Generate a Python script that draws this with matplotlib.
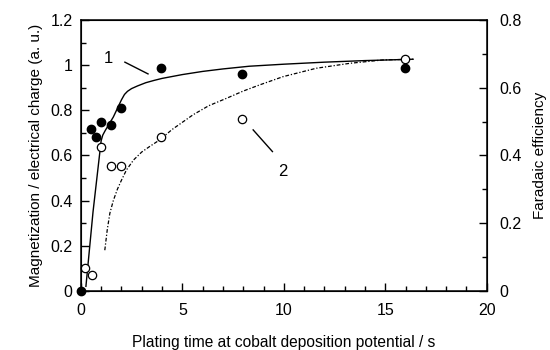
import numpy as np
import matplotlib.pyplot as plt
from matplotlib.ticker import MultipleLocator, FormatStrFormatter

plt.rcParams['font.family'] = ['Liberation Sans', 'DejaVu Sans']

# measured points
t_mag = [0, 0.49, 0.74, 0.99, 1.51, 1.99, 3.97, 7.96, 15.99]
mag = [0.0, 0.717, 0.683, 0.747, 0.735, 0.809, 0.988, 0.961, 0.989]

t_eff = [0.2, 0.53, 0.99, 1.51, 1.99, 3.97, 7.96, 15.96]
eff = [0.103, 0.069, 0.639, 0.555, 0.555, 0.683, 0.762, 1.026]  # on left scale

# fitted curves
fit1_t = [0.25, 0.6, 1.0, 1.08, 1.2, 1.6, 2.0, 2.15, 2.3, 2.5, 2.8, 3.2, 3.6, 4.0,
          5.0, 6.0, 7.0, 8.3, 10.0, 12.0, 14.0, 16.37]
fit1_y = [0.02, 0.35, 0.665, 0.69, 0.71, 0.77, 0.846, 0.87, 0.884, 0.896, 0.908, 0.922,
          0.932, 0.941, 0.958, 0.972, 0.983, 0.995, 1.004, 1.013, 1.02, 1.026]

fit2_t = [1.18, 1.3, 1.43, 1.6, 1.8, 2.0, 2.25, 2.6, 3.0, 3.4, 3.89, 4.5, 5.53, 6.3,
          7.18, 8.0, 8.8, 9.97, 11.6, 13.26, 14.9, 16.37]
fit2_y = [0.18, 0.27, 0.344, 0.40, 0.45, 0.49, 0.536, 0.58, 0.615, 0.64, 0.669, 0.715,
          0.78, 0.82, 0.853, 0.885, 0.912, 0.949, 0.986, 1.008, 1.023, 1.026]

fig = plt.figure(figsize=(5.5, 3.5), dpi=100)
ax = fig.add_axes([0.147, 0.169, 0.738, 0.774])

ax.plot(fit1_t, fit1_y, color='black', lw=1.0)
ax.plot(fit2_t, fit2_y, color='black', lw=0.9, ls=(0, (3, 1.5, 1, 1.5)))
ax.plot(t_mag, mag, 'o', color='black', ms=6, clip_on=False, zorder=5)
ax.plot(t_eff, eff, 'o', mfc='white', mec='black', mew=0.9, ms=6, clip_on=False, zorder=5)

ax.plot([2.17, 3.31], [1.013, 0.961], color='black', lw=1.0)
ax.text(1.38, 1.03, '1', fontsize=12, ha='center', va='center')
ax.plot([8.49, 9.44], [0.713, 0.617], color='black', lw=1.0)
ax.text(9.93, 0.528, '2', fontsize=12, ha='center', va='center')

ax.set_xlim(0, 20)
ax.set_ylim(0, 1.2)
ax.xaxis.set_major_locator(MultipleLocator(5))
ax.xaxis.set_minor_locator(MultipleLocator(1))
ax.yaxis.set_major_locator(MultipleLocator(0.2))
ax.yaxis.set_minor_locator(MultipleLocator(0.1))
ax.yaxis.set_major_formatter(FormatStrFormatter('%g'))
ax.tick_params(which='both', direction='in', top=False, right=False, labelsize=11.5, width=1.0)
ax.tick_params(which='major', length=6)
ax.tick_params(which='minor', length=3.5)
ax.tick_params(axis='x', pad=9)
ax.tick_params(axis='y', pad=6)
for s in ax.spines.values():
    s.set_linewidth(1.1)

ax.set_xlabel('Plating time at cobalt deposition potential / s', fontsize=11.2, labelpad=12)
ax.set_ylabel('Magnetization / electrical charge (a. u.)', fontsize=11, labelpad=5)

ax2 = ax.twinx()
ax2.set_ylim(0, 0.8)
ax2.yaxis.set_major_locator(MultipleLocator(0.2))
ax2.yaxis.set_minor_locator(MultipleLocator(0.1))
ax2.yaxis.set_major_formatter(FormatStrFormatter('%g'))
ax2.tick_params(which='both', direction='in', labelsize=11.5, width=1.0, pad=9)
ax2.tick_params(which='major', length=6)
ax2.tick_params(which='minor', length=3.5)
ax2.set_ylabel('Faradaic efficiency', fontsize=11, labelpad=8)

fig.savefig('out.png', dpi=100)
